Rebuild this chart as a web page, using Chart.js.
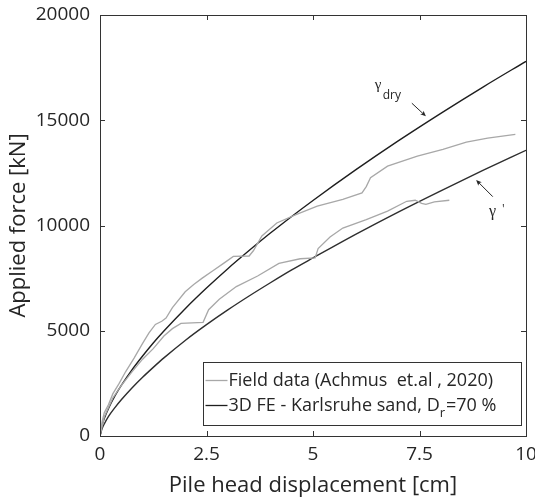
<!DOCTYPE html>
<html>
<head>
<meta charset="utf-8">
<script src="https://cdn.jsdelivr.net/npm/chart.js@4/dist/chart.umd.min.js"></script>
<style>
  html, body { margin: 0; padding: 0; background: #fff; }
  canvas { display: block; }
</style>
</head>
<body>
<canvas id="chart" width="535" height="501"></canvas>
<script>
// Field data, upper test curve (Achmus et al. 2020)
const field1Disp  = [0, 0.05, 0.1, 0.2, 0.3, 0.45, 0.6, 0.8, 1.0, 1.15, 1.3, 1.45, 1.55, 1.7, 2.0, 2.2, 2.4, 2.65, 2.9, 3.13, 3.5, 3.6, 3.8, 4.15, 4.6, 5.1, 5.7, 6.15, 6.25, 6.35, 6.75, 7.45, 8.05, 8.6, 9.1, 9.75];
const field1Force = [0, 700, 1100, 1500, 2000, 2500, 3050, 3700, 4400, 4900, 5300, 5450, 5600, 6100, 6850, 7200, 7500, 7850, 8200, 8530, 8550, 8800, 9500, 10120, 10520, 10920, 11240, 11550, 11850, 12270, 12820, 13300, 13620, 13960, 14150, 14330];

// Field data, lower test curve
const field2Disp  = [0, 0.1, 0.3, 0.5, 0.75, 1.0, 1.25, 1.5, 1.7, 1.9, 2.42, 2.55, 2.8, 3.2, 3.7, 4.2, 4.7, 5.05, 5.12, 5.4, 5.7, 6.25, 6.75, 7.2, 7.4, 7.55, 7.65, 7.85, 8.2];
const field2Force = [0, 900, 1800, 2400, 3050, 3650, 4150, 4750, 5100, 5350, 5400, 6000, 6500, 7100, 7600, 8200, 8420, 8460, 8900, 9450, 9880, 10280, 10680, 11150, 11200, 11050, 11000, 11120, 11200];

// 3D FE, Karlsruhe sand (gamma_dry and gamma')
const feDisp     = [0, 0.05, 0.1, 0.2, 0.35, 0.5, 0.75, 1, 1.25, 1.5, 2, 2.5, 3, 3.5, 4, 4.5, 5, 6, 7, 8, 9, 10];
const feDryForce = [0, 520, 830, 1310, 1900, 2400, 3140, 3800, 4420, 4990, 6050, 7030, 7950, 8810, 9640, 10430, 11190, 12640, 14020, 15330, 16590, 17800];
const feSubForce = [0, 350, 570, 930, 1350, 1720, 2280, 2790, 3260, 3710, 4540, 5290, 5990, 6650, 7280, 7890, 8460, 9580, 10640, 11650, 12630, 13570];

// axis ticks
const xTicks = [0, 2.5, 5, 7.5, 10];
const yTicks = [0, 5000, 10000, 15000, 20000];

// annotation anchors in data units [disp, force]
const dryLabelAt = [6.45, 16480];
const dryArrow   = [[7.32, 15810], [7.65, 15190]];
const subLabelAt = [9.13, 10430];
const subArrow   = [[9.22, 11370], [8.83, 12160]];

const TEXT = "#262626";
const FIELD_GRAY = "#a8a8a8";
const FE_BLACK = "#1e1e1e";
const FONT = "'Open Sans', 'Noto Sans', sans-serif";

function toPoints(xs, ys) {
  return xs.map((x, i) => ({ x: x, y: ys[i] }));
}

function drawArrow(ctx, x1, y1, x2, y2) {
  const ang = Math.atan2(y2 - y1, x2 - x1);
  const head = 6, spread = 0.42;
  ctx.beginPath();
  ctx.moveTo(x1, y1);
  ctx.lineTo(x2 - Math.cos(ang) * 3, y2 - Math.sin(ang) * 3);
  ctx.stroke();
  ctx.beginPath();
  ctx.moveTo(x2, y2);
  ctx.lineTo(x2 - head * Math.cos(ang - spread), y2 - head * Math.sin(ang - spread));
  ctx.lineTo(x2 - head * 0.7 * Math.cos(ang), y2 - head * 0.7 * Math.sin(ang));
  ctx.lineTo(x2 - head * Math.cos(ang + spread), y2 - head * Math.sin(ang + spread));
  ctx.closePath();
  ctx.fill();
}

// box, inward ticks, annotations and legend (MATLAB look)
const framePlugin = {
  id: "frame",
  afterDraw(chart) {
    const ctx = chart.ctx;
    const a = chart.chartArea;
    const sx = chart.scales.x, sy = chart.scales.y;
    const tick = 5;

    ctx.save();
    ctx.strokeStyle = "#333";
    ctx.lineWidth = 1;
    ctx.strokeRect(Math.round(a.left) + 0.5, Math.round(a.top) + 0.5,
                   Math.round(a.right - a.left), Math.round(a.bottom - a.top));
    ctx.beginPath();
    xTicks.forEach(v => {
      const px = Math.round(sx.getPixelForValue(v)) + 0.5;
      ctx.moveTo(px, a.bottom); ctx.lineTo(px, a.bottom - tick);
      ctx.moveTo(px, a.top); ctx.lineTo(px, a.top + tick);
    });
    yTicks.forEach(v => {
      const py = Math.round(sy.getPixelForValue(v)) + 0.5;
      ctx.moveTo(a.left, py); ctx.lineTo(a.left + tick, py);
      ctx.moveTo(a.right, py); ctx.lineTo(a.right - tick, py);
    });
    ctx.stroke();

    // gamma annotations
    ctx.fillStyle = TEXT;
    ctx.strokeStyle = TEXT;
    ctx.textBaseline = "alphabetic";
    ctx.textAlign = "left";
    let gx = sx.getPixelForValue(dryLabelAt[0]);
    let gy = sy.getPixelForValue(dryLabelAt[1]);
    ctx.font = "15px 'Liberation Serif', serif";
    ctx.fillText("\u03b3", gx, gy);
    ctx.font = "12px " + FONT;
    ctx.fillText("dry", gx + 8, gy + 10);
    drawArrow(ctx, sx.getPixelForValue(dryArrow[0][0]), sy.getPixelForValue(dryArrow[0][1]),
                   sx.getPixelForValue(dryArrow[1][0]), sy.getPixelForValue(dryArrow[1][1]));

    gx = sx.getPixelForValue(subLabelAt[0]);
    gy = sy.getPixelForValue(subLabelAt[1]);
    ctx.font = "16px 'Liberation Serif', serif";
    ctx.fillText("\u03b3", gx, gy);
    ctx.font = "12px " + FONT;
    ctx.fillText("'", gx + 13, gy - 3);
    drawArrow(ctx, sx.getPixelForValue(subArrow[0][0]), sy.getPixelForValue(subArrow[0][1]),
                   sx.getPixelForValue(subArrow[1][0]), sy.getPixelForValue(subArrow[1][1]));

    // legend box
    const bw = 318, bh = 63;
    const bx = Math.round(a.right - 5 - bw) + 0.5;
    const by = Math.round(a.bottom - 11 - bh) + 0.5;
    ctx.fillStyle = "#fff";
    ctx.fillRect(bx, by, bw, bh);
    ctx.strokeStyle = "#333";
    ctx.lineWidth = 1;
    ctx.strokeRect(bx, by, bw, bh);

    const rows = [
      { color: FIELD_GRAY, y: by + 18 },
      { color: FE_BLACK, y: by + 43 }
    ];
    rows.forEach(r => {
      ctx.strokeStyle = r.color;
      ctx.lineWidth = 1.3;
      ctx.beginPath();
      ctx.moveTo(bx + 2, r.y);
      ctx.lineTo(bx + 24, r.y);
      ctx.stroke();
    });
    ctx.fillStyle = TEXT;
    ctx.textBaseline = "middle";
    ctx.font = "18px " + FONT;
    const tx = bx + 25;
    ctx.fillText("Field data (Achmus  et.al , 2020)", tx, rows[0].y);
    const part1 = "3D FE - Karlsruhe sand, D";
    ctx.fillText(part1, tx, rows[1].y);
    let w = ctx.measureText(part1).width;
    ctx.font = "13px " + FONT;
    ctx.fillText("r", tx + w, rows[1].y + 8);
    w += ctx.measureText("r").width + 1;
    ctx.font = "18px " + FONT;
    ctx.fillText("=70 %", tx + w, rows[1].y);
    ctx.restore();
  }
};

const lineStyle = (color, width) => ({
  showLine: true,
  borderColor: color,
  backgroundColor: color,
  borderWidth: width,
  pointRadius: 0,
  fill: false
});

new Chart(document.getElementById("chart"), {
  type: "scatter",
  data: {
    datasets: [
      Object.assign({ label: "Field data (Achmus et.al, 2020)", data: toPoints(field1Disp, field1Force), tension: 0 }, lineStyle(FIELD_GRAY, 1.3)),
      Object.assign({ label: "Field data lower", data: toPoints(field2Disp, field2Force), tension: 0 }, lineStyle(FIELD_GRAY, 1.3)),
      Object.assign({ label: "3D FE dry", data: toPoints(feDisp, feDryForce), cubicInterpolationMode: "monotone" }, lineStyle(FE_BLACK, 1.4)),
      Object.assign({ label: "3D FE submerged", data: toPoints(feDisp, feSubForce), cubicInterpolationMode: "monotone" }, lineStyle("#2e2e2e", 1.4))
    ]
  },
  options: {
    responsive: false,
    animation: false,
    layout: { padding: { top: 15, right: 9, left: 0, bottom: 0 } },
    plugins: {
      legend: { display: false },
      tooltip: { enabled: false }
    },
    scales: {
      x: {
        type: "linear",
        min: 0,
        max: 10,
        afterBuildTicks(scale) { scale.ticks = xTicks.map(v => ({ value: v })); },
        ticks: {
          color: TEXT,
          font: { family: FONT, size: 19 },
          padding: 7,
          maxRotation: 0,
          autoSkip: false,
          callback: v => String(v)
        },
        grid: { display: false, drawTicks: false },
        border: { display: false },
        title: {
          display: true,
          text: "Pile head displacement [cm]",
          color: TEXT,
          font: { family: FONT, size: 22 },
          padding: { top: 0, bottom: 2 }
        },
        afterFit(scale) {
          scale.height = 65;
          scale.paddingLeft = 0;
          scale.paddingRight = 0;
        }
      },
      y: {
        type: "linear",
        min: 0,
        max: 20000,
        afterBuildTicks(scale) { scale.ticks = yTicks.map(v => ({ value: v })); },
        ticks: {
          color: TEXT,
          font: { family: FONT, size: 19 },
          padding: 10,
          autoSkip: false,
          callback: v => String(v)
        },
        grid: { display: false, drawTicks: false },
        border: { display: false },
        title: {
          display: true,
          text: "Applied force [kN]",
          color: TEXT,
          font: { family: FONT, size: 22 },
          padding: { top: 6, bottom: 0 }
        },
        afterFit(scale) {
          scale.width = 100;
          scale.paddingTop = 0;
          scale.paddingBottom = 0;
        }
      }
    }
  },
  plugins: [framePlugin]
});
</script>
</body>
</html>
